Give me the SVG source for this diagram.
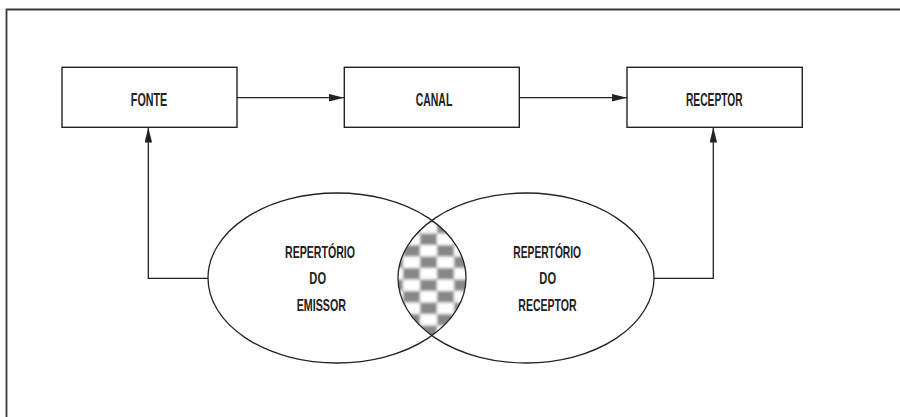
<svg xmlns="http://www.w3.org/2000/svg" width="900" height="417" viewBox="0 0 900 417">
<style>
.frame{stroke:#3a3a3a;stroke-width:1.8;fill:none}
.box{fill:#fff;stroke:#222;stroke-width:1.4}
.ell{fill:none;stroke:#222;stroke-width:1.3}
.line{fill:none;stroke:#222;stroke-width:1.3}
text{font-family:"Liberation Sans",Arial,sans-serif;font-weight:bold;fill:#222;text-anchor:middle}
.bt{font-size:18.5px}
.et{font-size:17px}
</style>
<defs>
<marker id="ah" markerUnits="userSpaceOnUse" markerWidth="16" markerHeight="8" refX="15" refY="3.75" orient="auto">
<path d="M0,0 L15,3.75 L0,7.5 z" fill="#222"/>
</marker>
<pattern id="chk" patternUnits="userSpaceOnUse" x="403" y="245" width="34" height="23">
<rect width="34" height="23" fill="#fff"/>
<rect x="0" y="0" width="17" height="11.5" fill="#878787"/>
<rect x="17" y="11.5" width="17" height="11.5" fill="#878787"/>
</pattern>
<filter id="blur" x="-10%" y="-10%" width="120%" height="120%"><feGaussianBlur stdDeviation="1.5"/></filter>
<clipPath id="cL"><ellipse cx="337" cy="278" rx="129" ry="85"/></clipPath>
<clipPath id="cR"><ellipse cx="526" cy="278" rx="128" ry="85"/></clipPath>
</defs>
<rect width="900" height="417" fill="#fff"/>
<path class="frame" d="M6.5,417 V9.5 H900"/>
<g id="lens" clip-path="url(#cL)">
<g clip-path="url(#cR)">
<rect x="380" y="180" width="110" height="200" fill="url(#chk)" filter="url(#blur)"/>
</g>
</g>
<g id="connectors">
<line class="line" x1="237" y1="97.7" x2="344" y2="97.7" marker-end="url(#ah)"/>
<line class="line" x1="519.5" y1="97.7" x2="627" y2="97.7" marker-end="url(#ah)"/>
<polyline class="line" points="208,278.3 148.3,278.3 148.3,127.5" marker-end="url(#ah)"/>
<polyline class="line" points="654,278.3 713.3,278.3 713.3,127.5" marker-end="url(#ah)"/>
</g>
<g id="fonte">
<rect class="box" x="62" y="67.3" width="175" height="60"/>
<text class="bt" x="149" y="106" textLength="36.3" lengthAdjust="spacingAndGlyphs">FONTE</text>
</g>
<g id="canal">
<rect class="box" x="344.3" y="67.3" width="175" height="60"/>
<text class="bt" x="434" y="106" textLength="36.7" lengthAdjust="spacingAndGlyphs">CANAL</text>
</g>
<g id="receptor">
<rect class="box" x="627" y="67.3" width="175.3" height="60"/>
<text class="bt" x="714.3" y="106" textLength="56.7" lengthAdjust="spacingAndGlyphs">RECEPTOR</text>
</g>
<g id="repertorio-emissor">
<ellipse class="ell" cx="337" cy="278" rx="129" ry="85"/>
<text class="et" x="320" y="257.7" textLength="70" lengthAdjust="spacingAndGlyphs">REPERTÓRIO</text>
<text class="et" x="317.7" y="284.3" textLength="16.7" lengthAdjust="spacingAndGlyphs">DO</text>
<text class="et" x="321.3" y="310.5" textLength="49.3" lengthAdjust="spacingAndGlyphs">EMISSOR</text>
</g>
<g id="repertorio-receptor">
<ellipse class="ell" cx="526" cy="278" rx="128" ry="85"/>
<text class="et" x="547.2" y="257.7" textLength="67.7" lengthAdjust="spacingAndGlyphs">REPERTÓRIO</text>
<text class="et" x="547.7" y="284.3" textLength="16.7" lengthAdjust="spacingAndGlyphs">DO</text>
<text class="et" x="547.5" y="310.5" textLength="58.3" lengthAdjust="spacingAndGlyphs">RECEPTOR</text>
</g>
</svg>
